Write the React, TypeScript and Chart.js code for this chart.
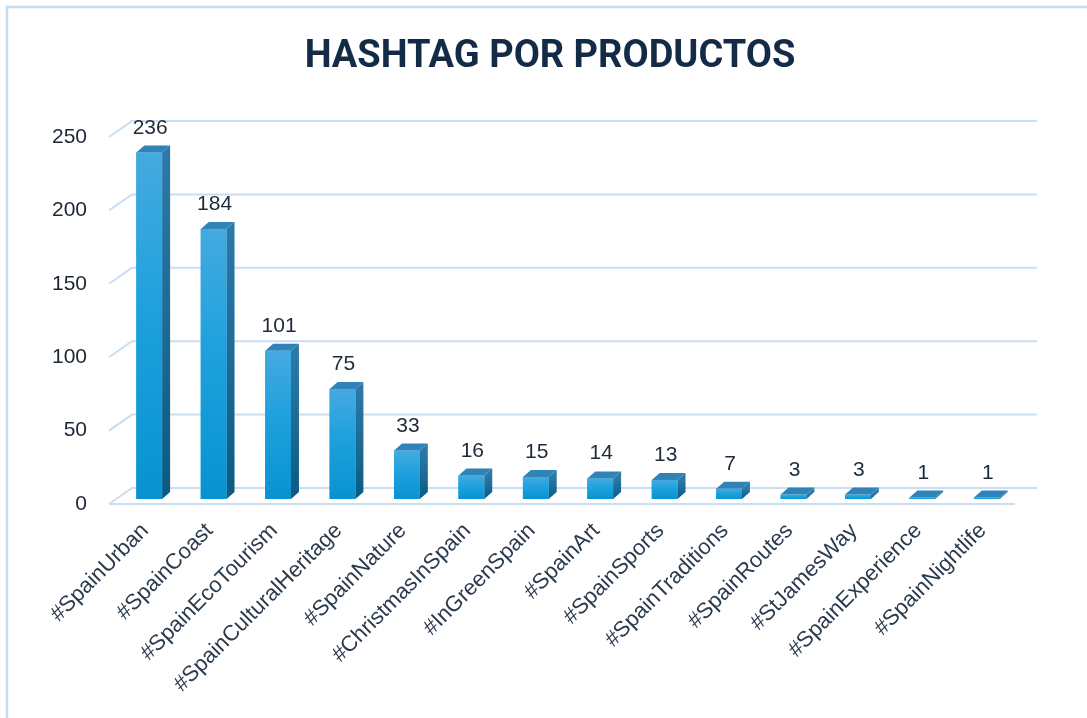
import React, { useEffect, useRef } from "react";
import { Chart, registerables } from "chart.js";

Chart.register(...registerables);

const chartTitle = "HASHTAG POR PRODUCTOS";
const categories = [
  "#SpainUrban",
  "#SpainCoast",
  "#SpainEcoTourism",
  "#SpainCulturalHeritage",
  "#SpainNature",
  "#ChristmasInSpain",
  "#InGreenSpain",
  "#SpainArt",
  "#SpainSports",
  "#SpainTraditions",
  "#SpainRoutes",
  "#StJamesWay",
  "#SpainExperience",
  "#SpainNightlife",
];
const values = [236, 184, 101, 75, 33, 16, 15, 14, 13, 7, 3, 3, 1, 1];
const yMin = 0;
const yMax = 250;
const yStep = 50;

const FONT = "'Liberation Sans', Arial, Helvetica, sans-serif";

const threeDPlugin = {
  id: "threeD",
  beforeDraw(chart: any) {
    const ctx = chart.ctx;
    ctx.save();
    ctx.fillStyle = "#ffffff";
    ctx.fillRect(0, 0, chart.width, chart.height);
    ctx.strokeStyle = "#c7dcf3";
    ctx.lineWidth = 2.5;
    ctx.strokeRect(7, 7, chart.width + 100, chart.height + 100);
    // title
    ctx.fillStyle = "#132b47";
    ctx.font = "bold 38px Roboto, 'Liberation Sans', sans-serif";
    ctx.textAlign = "center";
    ctx.textBaseline = "alphabetic";
    ctx.fillText(chartTitle, 550, 67);
    ctx.restore();
  },
  beforeDatasetsDraw(chart: any) {
    const ctx = chart.ctx;
    const area = chart.chartArea;
    const ys = chart.scales.y;
    ctx.save();
    ctx.strokeStyle = "#c9ddf3";
    ctx.lineWidth = 2;
    ys.ticks.forEach((t: any) => {
      const yb = ys.getPixelForValue(t.value);
      const fx = area.left - 8;
      const fy = yb + 5;
      const bx = area.left + 15;
      const by = yb - 11;
      ctx.beginPath();
      ctx.moveTo(fx, fy);
      ctx.lineTo(bx, by);
      ctx.lineTo(area.right + 18, by);
      ctx.stroke();
      if (t.value === 0) {
        ctx.beginPath();
        ctx.moveTo(fx, fy);
        ctx.lineTo(area.right - 4, fy);
        ctx.stroke();
      }
    });
    ctx.restore();
  },
  afterDatasetsDraw(chart: any) {
    const ctx = chart.ctx;
    const meta = chart.getDatasetMeta(0);
    const dx = 8;
    const dy = -7;
    ctx.save();
    meta.data.forEach((bar: any, i: number) => {
      const w = bar.width;
      const left = bar.x - w / 2;
      const right = bar.x + w / 2;
      const top = bar.y;
      const base = bar.base;
      // side face
      const sg = ctx.createLinearGradient(0, top, 0, base);
      sg.addColorStop(0, "#2c79a9");
      sg.addColorStop(1, "#0b5a82");
      ctx.fillStyle = sg;
      ctx.beginPath();
      ctx.moveTo(right, top);
      ctx.lineTo(right + dx, top + dy);
      ctx.lineTo(right + dx, base + dy);
      ctx.lineTo(right, base);
      ctx.closePath();
      ctx.fill();
      // top face
      ctx.fillStyle = "#3083b7";
      ctx.beginPath();
      ctx.moveTo(left, top);
      ctx.lineTo(left + dx, top + dy);
      ctx.lineTo(right + dx, top + dy);
      ctx.lineTo(right, top);
      ctx.closePath();
      ctx.fill();
      // front face
      const fg = ctx.createLinearGradient(0, top, 0, base);
      fg.addColorStop(0, "#45aae0");
      fg.addColorStop(0.45, "#1ea1dd");
      fg.addColorStop(1, "#0793d0");
      ctx.fillStyle = fg;
      ctx.fillRect(left, top, w, base - top);
      // value label
      ctx.fillStyle = "#1e2a38";
      ctx.font = "21px " + FONT;
      ctx.textAlign = "center";
      ctx.textBaseline = "alphabetic";
      ctx.fillText(String(values[i]), bar.x + 1, top - 19);
    });
    ctx.restore();
  },
};

export default function App() {
  const ref = useRef<HTMLCanvasElement | null>(null);
  useEffect(() => {
    if (!ref.current) return;
    const chart = new Chart(ref.current, {
      type: "bar",
      data: {
        labels: categories,
        datasets: [
          {
            data: values,
            backgroundColor: "#1ea1dd",
            barPercentage: 0.4,
            categoryPercentage: 1,
          },
        ],
      },
      options: {
        animation: false,
        responsive: false,
        maintainAspectRatio: false,
        events: [],
        layout: { padding: { top: 132, left: 0, right: 68, bottom: 0 } },
        plugins: {
          legend: { display: false },
          title: { display: false },
          tooltip: { enabled: false },
        },
        scales: {
          x: {
            grid: { display: false },
            border: { display: false },
            afterFit: (s: any) => {
              s.height = 219;
            },
            ticks: {
              autoSkip: false,
              minRotation: 45,
              maxRotation: 45,
              padding: 11,
              labelOffset: -4,
              color: "#2b3b4e",
              font: { family: FONT, size: 22 },
            },
          },
          y: {
            min: yMin,
            max: yMax,
            grid: { display: false },
            border: { display: false },
            afterFit: (s: any) => {
              s.width = 117;
            },
            ticks: {
              stepSize: yStep,
              padding: 22,
              labelOffset: 5,
              color: "#1c2735",
              font: { family: FONT, size: 21 },
            },
          },
        },
      },
      plugins: [threeDPlugin],
    });
    return () => chart.destroy();
  }, []);
  return (
    <div style={{ position: "fixed", left: 0, top: 0, width: 1087, height: 718, background: "#fff" }}>
      <canvas ref={ref} width={1087} height={718} style={{ width: 1087, height: 718, display: "block" }} />
    </div>
  );
}
